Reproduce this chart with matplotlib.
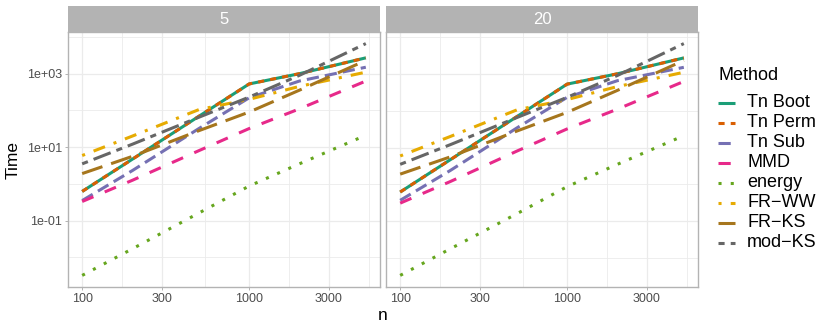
import numpy as np
import matplotlib
matplotlib.use("Agg")
import matplotlib.pyplot as plt

plt.rcParams['font.family'] = ['Liberation Sans', 'DejaVu Sans']

# sample sizes
n = [100, 200, 500, 1000, 2000, 5000]

methods = ["Tn Boot", "Tn Perm", "Tn Sub", "MMD", "energy", "FR-WW", "FR-KS", "mod-KS"]
colors = ["#1B9E77", "#D95F02", "#7570B3", "#E7298A", "#66A61E", "#E6AB02", "#A6761D", "#666666"]
# ggplot default linetype sequence (units of line width)
dashes = [None, (2, 2), (4, 2), (4, 4), (1, 3), (1, 3, 4, 3), (7, 3), (2, 2, 6, 2)]

# timings, panel "5"
tn_boot_5 = [0.62, 4.7, 69, 525, 1000, 2700]
tn_perm_5 = [0.62, 4.7, 69, 525, 1000, 2700]
tn_sub_5 = [0.35, 2.3, 32, 220, 630, 1500]
mmd_5 = [0.33, 1.25, 8, 32, 110, 630]
energy_5 = [0.0032, 0.017, 0.16, 0.87, 3.5, 21]
fr_ww_5 = [5.9, 20, 105, 200, 450, 1100]
fr_ks_5 = [1.9, 5.6, 28, 90, 355, 2300]
mod_ks_5 = [3.5, 12, 65, 230, 900, 6600]

# timings, panel "20"
tn_boot_20 = [0.62, 4.7, 69, 525, 1000, 2700]
tn_perm_20 = [0.62, 4.7, 69, 525, 1000, 2700]
tn_sub_20 = [0.37, 2.4, 34, 230, 650, 1500]
mmd_20 = [0.31, 1.2, 8, 32, 110, 620]
energy_20 = [0.0034, 0.018, 0.16, 0.87, 3.5, 21]
fr_ww_20 = [5.9, 20, 105, 200, 450, 1100]
fr_ks_20 = [1.9, 5.6, 28, 90, 355, 2300]
mod_ks_20 = [3.5, 12, 65, 230, 900, 6600]

panels = ["5", "20"]
panel_data = [
    [tn_boot_5, tn_perm_5, tn_sub_5, mmd_5, energy_5, fr_ww_5, fr_ks_5, mod_ks_5],
    [tn_boot_20, tn_perm_20, tn_sub_20, mmd_20, energy_20, fr_ww_20, fr_ks_20, mod_ks_20],
]

xticks = [100, 300, 1000, 3000]
xticklabels = ["100", "300", "1000", "3000"]
yticks = [0.1, 10, 1000]
yticklabels = ["1e-01", "1e+01", "1e+03"]

W, H = 830, 332
fig = plt.figure(figsize=(W / 100, H / 100), dpi=100)

grey70 = "#B3B3B3"
grid_col = "#EBEBEB"
LW = 2.2


def frac(l, t, r, b):
    return [l / W, 1 - b / H, (r - l) / W, (b - t) / H]


lefts = [68, 386]
width = 312
for i, name in enumerate(panels):
    l = lefts[i]
    ax = fig.add_axes(frac(l, 32, l + width, 287))
    ax.set_xscale("log")
    ax.set_yscale("log")
    for k, m in enumerate(methods):
        ls = "-" if dashes[k] is None else (0, dashes[k])
        ax.plot(n, panel_data[i][k], color=colors[k], lw=LW, linestyle=ls,
                solid_capstyle="butt", dash_capstyle="butt", zorder=3)
    lx = np.log10([100, 5000])
    ex = 0.05 * (lx[1] - lx[0])
    ax.set_xlim(10 ** (lx[0] - ex), 10 ** (lx[1] + ex))
    ally = np.log10([min(min(s) for s in panel_data[i]), max(max(s) for s in panel_data[i])])
    ey = 0.05 * (ally[1] - ally[0])
    ax.set_ylim(10 ** (ally[0] - ey), 10 ** (ally[1] + ey))

    ax.set_xticks(xticks)
    ax.set_xticklabels(xticklabels)
    lt = np.log10(xticks)
    xminor = 10 ** (np.append(lt[:-1] + np.diff(lt) / 2, lt[-1] + (lt[-1] - lt[-2]) / 2))
    ax.set_xticks(xminor, minor=True)
    ax.set_xticklabels([], minor=True)
    ax.set_yticks(yticks)
    ax.set_yticks([0.01, 1, 100, 10000], minor=True)
    ax.set_yticklabels(yticklabels if i == 0 else [])
    ax.set_yticklabels([], minor=True)

    ax.grid(True, which="major", color=grid_col, lw=0.9, zorder=0)
    ax.grid(True, which="minor", color=grid_col, lw=0.6, zorder=0)
    ax.set_axisbelow(True)
    ax.tick_params(which="major", length=2.2, width=0.7, color=grey70, pad=2.2,
                   labelsize=9, labelcolor="#4D4D4D")
    ax.tick_params(which="minor", length=0)
    if i == 1:
        ax.tick_params(axis="y", which="major", length=0)
    for sp in ax.spines.values():
        sp.set_color(grey70)
        sp.set_linewidth(1.0)

    strip = fig.add_axes(frac(l, 6, l + width, 32))
    strip.set_facecolor(grey70)
    strip.set_xticks([])
    strip.set_yticks([])
    for sp in strip.spines.values():
        sp.set_visible(False)
    strip.text(0.5, 0.5, name, color="white", fontsize=12, ha="center", va="center",
               transform=strip.transAxes)

fig.text(383 / W, 1 - 316 / H, "n", fontsize=12.5, ha="center", va="center")
fig.text(13.5 / W, 1 - 160 / H, "Time", fontsize=12.5, rotation=90, ha="center", va="center")

# legend
leg = fig.add_axes([0, 0, 1, 1])
leg.set_xlim(0, W)
leg.set_ylim(H, 0)
leg.axis("off")
leg.text(718, 75, "Method", fontsize=13, ha="left", va="center")
for k, m in enumerate(methods):
    y = 102.7 + 20 * k
    ls = "-" if dashes[k] is None else (0, dashes[k])
    leg.plot([718, 735], [y, y], color=colors[k], lw=LW, linestyle=ls,
             solid_capstyle="butt", dash_capstyle="butt")
    leg.text(747, y, m.replace("-", "\u2212"), fontsize=13, ha="left", va="center")

fig.savefig("out.png", dpi=100)
